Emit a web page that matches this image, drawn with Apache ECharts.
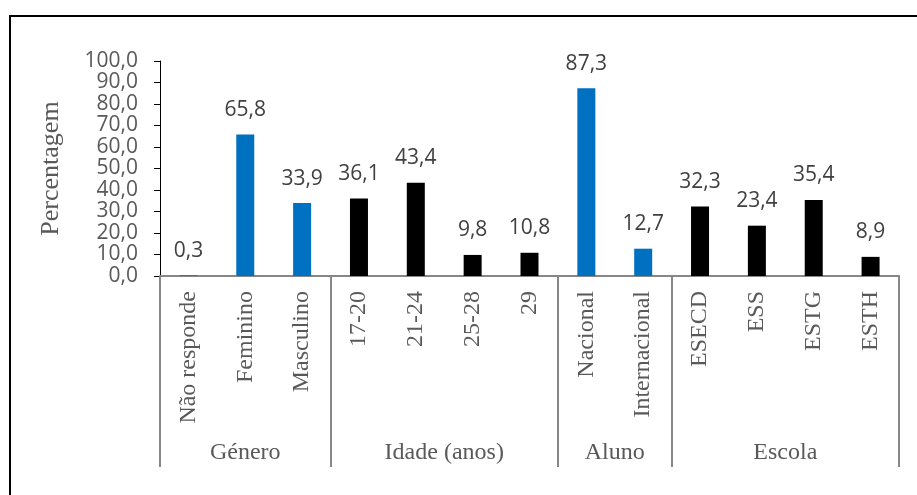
<!DOCTYPE html>
<head>
    <meta charset="utf-8">
    <title>Percentagem</title>
</head>
<body style="margin:0;background:#fff;">
    <script type="text/javascript" src="https://cdn.jsdelivr.net/npm/echarts@6/dist/echarts.min.js"></script>

    <div id="main" style="width: 917px;height:495px;"></div>

    <script type="text/javascript">
        var categories = ['Não responde', 'Feminino', 'Masculino', '17-20', '21-24', '25-28', '29',
                          'Nacional', 'Internacional', 'ESECD', 'ESS', 'ESTG', 'ESTH'];
        var values = [0.3, 65.8, 33.9, 36.1, 43.4, 9.8, 10.8, 87.3, 12.7, 32.3, 23.4, 35.4, 8.9];
        var groups = ['Género', 'Idade (anos)', 'Aluno', 'Escola'];
        var groupSizes = [3, 4, 2, 4];
        var blueGroups = ['Género', 'Aluno'];

        var serif = 'Liberation Serif';
        var sans = 'Open Sans';

        // which group each category belongs to, and where groups start
        var catGroup = [];
        var groupStart = {};
        var k = 0;
        for (var g = 0; g < groups.length; g++) {
            groupStart[k] = true;
            for (var j = 0; j < groupSizes[g]; j++) { catGroup.push(groups[g]); k++; }
        }

        var barData = values.map(function (v, i) {
            return {
                value: v,
                itemStyle: { color: blueGroups.indexOf(catGroup[i]) >= 0 ? '#0070C0' : '#000000' }
            };
        });

        var myChart = echarts.init(document.getElementById('main'));
        myChart.setOption({
            animation: false,
            grid: { left: 160, right: 18, top: 61, bottom: 219 },
            xAxis: {
                type: 'category',
                data: categories,
                axisLine: { lineStyle: { color: '#878787', width: 2 } },
                axisTick: {
                    show: true,
                    length: 191,
                    interval: function (idx) { return !!groupStart[idx]; },
                    lineStyle: { color: '#878787', width: 2 }
                },
                axisLabel: {
                    rotate: 90,
                    margin: 15,
                    interval: 0,
                    color: '#595959',
                    fontFamily: serif,
                    fontSize: 24
                }
            },
            yAxis: {
                type: 'value',
                min: 0,
                max: 100,
                interval: 10,
                name: 'Percentagem',
                nameLocation: 'middle',
                nameGap: 96,
                nameTextStyle: { color: '#595959', fontFamily: serif, fontSize: 26 },
                axisLine: { show: true, lineStyle: { color: '#000', width: 1 } },
                axisTick: { show: true, length: 6, lineStyle: { color: '#000' } },
                splitLine: { show: false },
                axisLabel: {
                    margin: 22,
                    color: '#595959',
                    fontFamily: sans,
                    fontSize: 21,
                    formatter: function (v) { return v.toFixed(1).replace('.', ','); }
                }
            },
            series: [{
                type: 'bar',
                data: barData,
                barWidth: 18,
                label: {
                    show: true,
                    position: 'top',
                    distance: 14,
                    color: '#404040',
                    fontFamily: sans,
                    fontSize: 21,
                    formatter: function (p) { return p.value.toFixed(1).replace('.', ','); }
                }
            }]
        });

        // group names centred under each group, placed through the axis scale
        var texts = [];
        var start = 0;
        for (var g2 = 0; g2 < groups.length; g2++) {
            var x1 = myChart.convertToPixel({ xAxisIndex: 0 }, categories[start]);
            var x2 = myChart.convertToPixel({ xAxisIndex: 0 }, categories[start + groupSizes[g2] - 1]);
            texts.push({
                type: 'text',
                x: (x1 + x2) / 2,
                y: 453,
                style: {
                    text: groups[g2],
                    fill: '#595959',
                    font: '24px "' + serif + '"',
                    textAlign: 'center',
                    textVerticalAlign: 'middle'
                }
            });
            start += groupSizes[g2];
        }
        texts.push({
            type: 'rect',
            shape: { x: 10, y: 16, width: 950, height: 520 },
            style: { fill: 'none', stroke: '#000', lineWidth: 2 }
        });
        myChart.setOption({ graphic: texts });
    </script>
</body>
